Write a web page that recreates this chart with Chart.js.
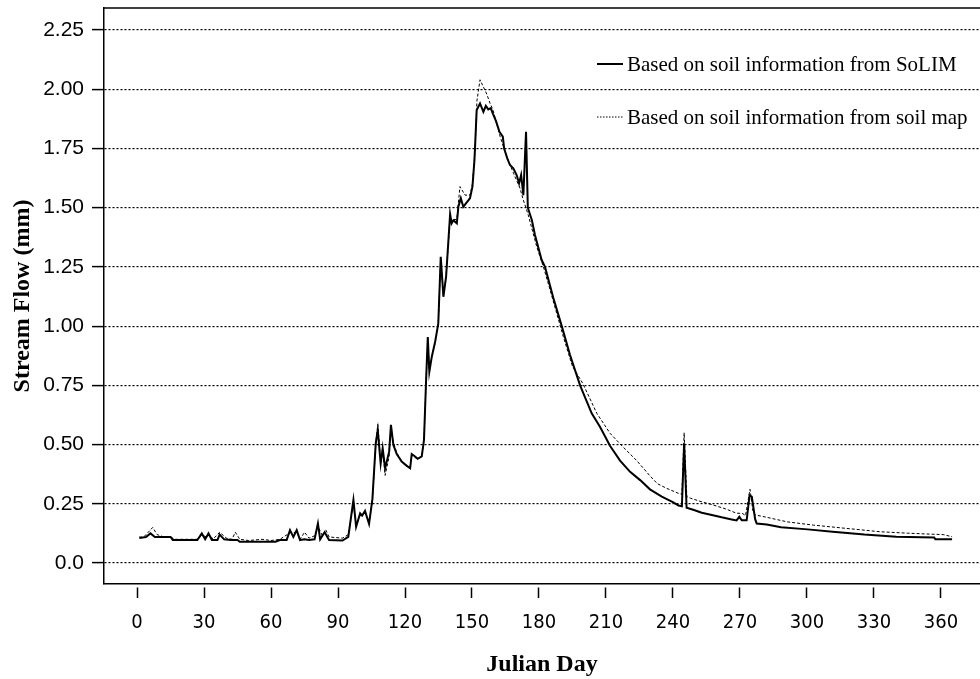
<!DOCTYPE html>
<html>
<head>
<meta charset="utf-8">
<script src="https://cdn.jsdelivr.net/npm/chart.js@4/dist/chart.umd.min.js"></script>
<style>
  body { margin: 0; background: #fff; }
  canvas { display: block; }
</style>
</head>
<body>
<canvas id="chart" width="980" height="679"></canvas>
<script>
// stream flow (Julian day, mm)
const solimDays = [1, 4, 6, 8, 15, 16, 27, 29, 30.5, 32, 33.5, 36, 37, 39, 42, 45, 46, 62, 64, 67,
  68.5, 70, 71.5, 73, 75, 77, 79.5, 81, 82, 84, 86, 92, 94.6, 96.9, 98.1, 99.9, 100.8, 102.1, 103.9, 105.4,
  106.9, 107.8, 109.1, 110, 111.1, 112.9, 113.7, 114.8, 116.3, 118.5, 120.8, 122.3, 123, 124.5, 125.7, 127.5, 128.5, 129.4, 130.2, 130.9,
  132, 133.5, 134.9, 136, 137.2, 138.4, 140.2, 140.9, 141.7, 143.2, 143.9, 145, 146.1, 149.1, 150.2, 151.1, 152.1, 153.6, 155.1, 156.2,
  157.3, 158.4, 159.3, 160.8, 162.3, 163.8, 164.4, 165.8, 167, 168.5, 170, 171.1, 172, 173, 174.2, 175, 176.8, 178.2, 181.2, 182.7,
  186.4, 190.2, 193.9, 198.4, 203.6, 207.3, 211.8, 216.3, 220.8, 225.3, 229.7, 235, 239.5, 242.5, 244, 245, 246.1, 249.4, 252.9, 257.4,
  261.8, 266.3, 268.5, 269.7, 270.8, 273, 274.3, 275.3, 276.8, 277.5, 282, 288.4, 300.3, 311.5, 318, 325.7, 340, 357, 357.5, 365]
const solimFlow = [0.105, 0.11, 0.125, 0.11, 0.11, 0.097, 0.097, 0.125, 0.1, 0.125, 0.097, 0.097, 0.12, 0.1, 0.097, 0.097, 0.09, 0.09, 0.097, 0.097,
  0.139, 0.11, 0.139, 0.097, 0.1, 0.097, 0.1, 0.167, 0.1, 0.13, 0.097, 0.095, 0.11, 0.266, 0.153, 0.21, 0.2, 0.22, 0.165, 0.27,
  0.506, 0.561, 0.42, 0.485, 0.4, 0.47, 0.583, 0.498, 0.46, 0.428, 0.41, 0.4, 0.46, 0.45, 0.44, 0.45, 0.52, 0.76, 0.954, 0.807,
  0.871, 0.934, 1.01, 1.293, 1.124, 1.209, 1.473, 1.434, 1.447, 1.434, 1.504, 1.54, 1.504, 1.54, 1.589, 1.7, 1.912, 1.94, 1.905, 1.93,
  1.915, 1.92, 1.898, 1.864, 1.82, 1.8, 1.75, 1.708, 1.68, 1.666, 1.638, 1.603, 1.638, 1.553, 1.82, 1.5, 1.448, 1.385, 1.279, 1.25,
  1.12, 1.0, 0.878, 0.75, 0.632, 0.575, 0.495, 0.432, 0.385, 0.35, 0.311, 0.28, 0.259, 0.243, 0.24, 0.505, 0.233, 0.224, 0.212, 0.203,
  0.193, 0.184, 0.18, 0.195, 0.18, 0.18, 0.285, 0.28, 0.185, 0.167, 0.163, 0.151, 0.142, 0.132, 0.127, 0.12, 0.111, 0.108, 0.1, 0.1]

const mapDays = [1, 3, 5, 7, 9, 12, 15, 17, 27, 29, 31, 32.5, 34, 37, 40, 42.5, 44, 46, 50, 56,
  60, 64, 68.5, 71.5, 73, 75, 77, 79.5, 81, 83, 84.5, 86, 92, 94.6, 96.9, 98.1, 99.9, 102.1, 103.9, 105.4,
  106.9, 107.8, 109.1, 110, 111.1, 112.9, 113.7, 114.8, 116.3, 118.5, 120.8, 122.3, 123, 124.5, 125.7, 127.5, 128.5, 129.4, 130.2, 130.9,
  132, 133.5, 134.9, 136, 137.2, 138.4, 140.2, 140.9, 141.7, 143.2, 144.6, 146.9, 149.1, 150.2, 151.4, 152.2, 153.6, 155.1, 156.6, 158.1,
  159.3, 160.8, 162.6, 165.6, 168.6, 171.5, 173, 175.2, 179, 182, 185, 190.9, 195, 199.5, 205.9, 211.8, 217.1, 223.8, 229.7, 233,
  237.2, 242.5, 244, 245, 246.2, 248, 253, 258, 264, 268.5, 271, 272.5, 274.5, 275.8, 276.8, 282, 291, 302.9, 317.8, 332.7,
  345, 355, 361, 365]
const mapFlow = [0.11, 0.11, 0.13, 0.15, 0.12, 0.11, 0.11, 0.1, 0.1, 0.118, 0.11, 0.12, 0.1, 0.13, 0.105, 0.1, 0.13, 0.1, 0.095, 0.1,
  0.095, 0.1, 0.128, 0.13, 0.1, 0.13, 0.105, 0.115, 0.155, 0.115, 0.14, 0.11, 0.105, 0.12, 0.25, 0.16, 0.2, 0.21, 0.17, 0.26,
  0.5, 0.585, 0.43, 0.47, 0.37, 0.45, 0.57, 0.51, 0.465, 0.43, 0.41, 0.405, 0.455, 0.445, 0.44, 0.45, 0.52, 0.76, 0.94, 0.81,
  0.87, 0.93, 1.01, 1.28, 1.13, 1.21, 1.46, 1.44, 1.45, 1.45, 1.589, 1.553, 1.553, 1.6, 1.75, 1.95, 2.04, 2.01, 1.98, 1.94,
  1.915, 1.864, 1.8, 1.715, 1.645, 1.582, 1.532, 1.469, 1.335, 1.25, 1.152, 0.955, 0.83, 0.76, 0.632, 0.548, 0.495, 0.432, 0.368, 0.335,
  0.315, 0.294, 0.29, 0.55, 0.28, 0.273, 0.258, 0.245, 0.227, 0.21, 0.21, 0.2, 0.311, 0.22, 0.203, 0.193, 0.174, 0.16, 0.146, 0.132,
  0.126, 0.122, 0.12, 0.111]

const seriesNames = ['Based on soil information from SoLIM', 'Based on soil information from soil map']
const xTicks = [0, 30, 60, 90, 120, 150, 180, 210, 240, 270, 300, 330, 360]
const yTicks = [0, 0.25, 0.5, 0.75, 1.0, 1.25, 1.5, 1.75, 2.0, 2.25]

const toPoints = (days, vals) => days.map((d, i) => ({ x: d, y: vals[i] }))

// top edge of the plot box and the legend in the upper right
const framePlugin = {
  id: 'frame',
  afterDraw: (chart) => {
    const ctx = chart.ctx
    const a = chart.chartArea
    ctx.save()
    ctx.strokeStyle = '#000'
    ctx.lineWidth = 1.5
    ctx.beginPath()
    ctx.moveTo(a.left, a.top)
    ctx.lineTo(a.right, a.top)
    ctx.stroke()

    const rows = [{ y: 64, width: 2, dash: [] }, { y: 117, width: 1, dash: [1.5, 1.5] }]
    ctx.font = '21px "Liberation Serif", "Times New Roman", serif'
    ctx.textBaseline = 'middle'
    ctx.fillStyle = '#000'
    rows.forEach((r, i) => {
      ctx.lineWidth = r.width
      ctx.setLineDash(r.dash)
      ctx.beginPath()
      ctx.moveTo(597, r.y)
      ctx.lineTo(623, r.y)
      ctx.stroke()
      ctx.fillText(chart.data.datasets[i].label, 627, r.y + 1)
    })
    ctx.restore()
  }
}

const ctx = document.getElementById('chart').getContext('2d')
new Chart(ctx, {
  type: 'line',
  data: {
    datasets: [{
      label: seriesNames[0],
      data: toPoints(solimDays, solimFlow),
      borderColor: '#000',
      borderWidth: 2,
      pointRadius: 0,
      tension: 0
    }, {
      label: seriesNames[1],
      data: toPoints(mapDays, mapFlow),
      borderColor: '#000',
      borderWidth: 1,
      borderDash: [3, 2],
      pointRadius: 0,
      tension: 0
    }]
  },
  options: {
    responsive: false,
    animation: false,
    layout: { padding: { top: 8, right: 0, left: 0, bottom: 0 } },
    plugins: {
      legend: { display: false },
      tooltip: { enabled: false }
    },
    scales: {
      x: {
        type: 'linear',
        min: -14.8,
        max: 377.5,
        afterBuildTicks: (s) => { s.ticks = xTicks.map(v => ({ value: v })) },
        afterFit: (s) => {
          s.height = 95
          s.paddingLeft = 0
          s.paddingRight = 0
        },
        grid: {
          drawOnChartArea: false,
          drawTicks: true,
          tickLength: 14,
          tickColor: '#000',
          tickWidth: 1.5,
          tickBorderDash: [0, 3, 11]
        },
        border: { display: true, color: '#000', width: 1.5 },
        ticks: {
          color: '#000',
          padding: 13,
          autoSkip: false,
          maxRotation: 0,
          font: { family: '"Liberation Sans Narrow", "DejaVu Sans Condensed", sans-serif', size: 20 }
        },
        title: {
          display: true,
          text: 'Julian Day',
          color: '#000',
          padding: { top: 0, bottom: 0 },
          font: { family: '"Liberation Serif", "Times New Roman", serif', size: 24, weight: 'bold' }
        }
      },
      y: {
        min: -0.0886,
        max: 2.343,
        afterBuildTicks: (s) => { s.ticks = yTicks.map(v => ({ value: v })) },
        afterFit: (s) => {
          s.width = 104
          s.paddingTop = 0
          s.paddingBottom = 0
        },
        grid: {
          color: '#000',
          lineWidth: 1.2,
          drawTicks: true,
          tickLength: 12,
          tickColor: '#000',
          tickWidth: 1.5,
          tickBorderDash: []
        },
        border: { display: true, color: '#000', width: 1.5, dash: [2, 2] },
        ticks: {
          color: '#000',
          padding: 8,
          callback: (v) => v === 0 ? '0.0' : v.toFixed(2),
          font: { family: '"Liberation Sans", Arial, sans-serif', size: 21 }
        },
        title: {
          display: true,
          text: 'Stream Flow (mm)',
          color: '#000',
          padding: { top: 8, bottom: 0 },
          font: { family: '"Liberation Serif", "Times New Roman", serif', size: 24, weight: 'bold' }
        }
      }
    }
  },
  plugins: [framePlugin]
})
</script>
</body>
</html>
